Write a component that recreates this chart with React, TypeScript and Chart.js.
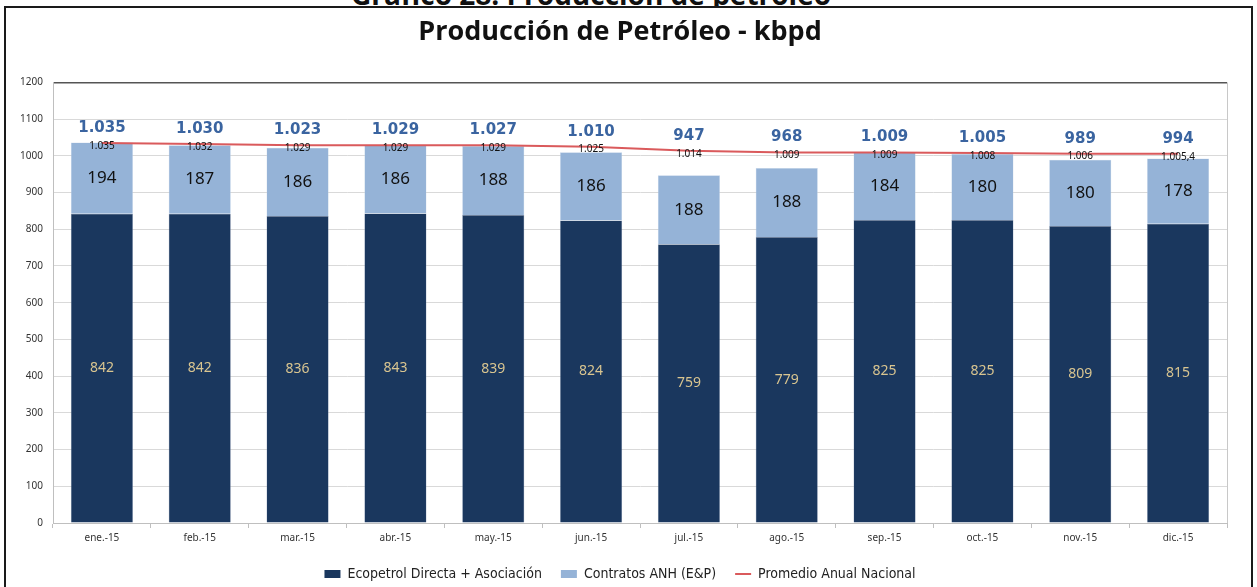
import React, { useEffect, useRef } from "react";
import { Chart, registerables } from "chart.js";

Chart.register(...registerables);

const categories = ["ene.-15", "feb.-15", "mar.-15", "abr.-15", "may.-15", "jun.-15", "jul.-15", "ago.-15", "sep.-15", "oct.-15", "nov.-15", "dic.-15"];
const ecopetrol = [842, 842, 836, 843, 839, 824, 759, 779, 825, 825, 809, 815];
const anh = [194, 187, 186, 186, 188, 186, 188, 188, 184, 180, 180, 178];
const totals = [1035, 1030, 1023, 1029, 1027, 1010, 947, 968, 1009, 1005, 989, 994];
const promedio = [1035, 1032, 1029, 1029, 1029, 1025, 1014, 1009, 1009, 1008, 1006, 1005.4];
const yTicks = [0, 100, 200, 300, 400, 500, 600, 700, 800, 900, 1000, 1100, 1200];

const fmt = (v: number) => {
  const isInt = Number.isInteger(v);
  const [ip, dp] = (isInt ? String(v) : v.toFixed(1)).split(".");
  const withThousands = ip.replace(/\B(?=(\d{3})+(?!\d))/g, ".");
  return dp ? withThousands + "," + dp : withThousands;
};

const NAVY = "#1A375E";
const LIGHT = "#95B3D7";
const RED = "#DA5A5C";

const labelsPlugin = {
  id: "customLabels",
  afterDatasetsDraw(chart: any) {
    const ctx = chart.ctx;
    const y = chart.scales.y;
    const area = chart.chartArea;
    ctx.save();
    ctx.strokeStyle = "#c8c8c8";
    ctx.lineWidth = 1;
    ctx.beginPath();
    ctx.moveTo(Math.round(area.right) + 0.5, area.top);
    ctx.lineTo(Math.round(area.right) + 0.5, area.bottom);
    ctx.stroke();

    const m0 = chart.getDatasetMeta(0);
    const m1 = chart.getDatasetMeta(1);
    const m2 = chart.getDatasetMeta(2);
    ctx.textAlign = "center";
    ctx.textBaseline = "middle";
    m0.data.forEach((bar: any, i: number) => {
      const c = bar.getCenterPoint();
      ctx.fillStyle = "#D9C590";
      ctx.font = "14px 'Noto Sans'";
      ctx.fillText(fmt(ecopetrol[i]), c.x, c.y);
    });
    m1.data.forEach((bar: any, i: number) => {
      const c = bar.getCenterPoint();
      ctx.fillStyle = "#111";
      ctx.font = "17px 'Noto Sans'";
      ctx.fillText(fmt(anh[i]), c.x, c.y);
    });
    m2.data.forEach((pt: any, i: number) => {
      ctx.fillStyle = "#111";
      ctx.font = "10px 'Noto Sans'";
      ctx.fillText(fmt(promedio[i]), pt.x, pt.y + 3);
    });
    m1.data.forEach((bar: any, i: number) => {
      const top = y.getPixelForValue(Math.max(totals[i], promedio[i]));
      ctx.fillStyle = "#3A64A0";
      ctx.font = "bold 15px 'DejaVu Sans'";
      ctx.fillText(fmt(totals[i]), bar.x, top - 15);
    });
    ctx.restore();
  },
};

export default function App() {
  const ref = useRef<HTMLCanvasElement | null>(null);
  useEffect(() => {
    if (!ref.current) return;
    const chart = new Chart(ref.current, {
      type: "bar",
      data: {
        labels: categories,
        datasets: [
          {
            type: "bar",
            label: "Ecopetrol Directa + Asociación",
            data: ecopetrol,
            backgroundColor: NAVY,
            borderColor: "#8a9ab5",
            borderWidth: 0.5,
            stack: "s",
            order: 2,
            barPercentage: 0.635,
            categoryPercentage: 1,
          },
          {
            type: "bar",
            label: "Contratos ANH (E&P)",
            data: anh,
            backgroundColor: LIGHT,
            borderColor: "#c9d8ea",
            borderWidth: 0.5,
            stack: "s",
            order: 2,
            barPercentage: 0.635,
            categoryPercentage: 1,
          },
          {
            type: "line",
            label: "Promedio Anual Nacional",
            data: promedio,
            borderColor: RED,
            backgroundColor: RED,
            borderWidth: 2,
            pointRadius: 0,
            tension: 0,
            stack: "avg",
            order: 1,
          } as any,
        ],
      },
      options: {
        animation: false,
        responsive: false,
        maintainAspectRatio: false,
        layout: { padding: { left: 7, right: 24, top: 0, bottom: -4 } },
        plugins: {
          title: {
            display: true,
            text: "Producción de Petróleo - kbpd",
            color: "#111",
            font: { family: "'Open Sans'", size: 27, weight: "bold" },
            padding: { top: 8, bottom: 34 },
          },
          legend: {
            position: "bottom",
            labels: {
              color: "#222",
              font: { family: "'Liberation Sans Narrow', 'DejaVu Sans Condensed', sans-serif", size: 14 },
              usePointStyle: true,
              pointStyleWidth: 16,
              boxHeight: 8,
              boxWidth: 16,
              padding: 19,
              sort: (a: any, b: any) => a.datasetIndex - b.datasetIndex,
              generateLabels: (ch: any) => {
                const base = Chart.defaults.plugins.legend.labels.generateLabels(ch);
                return base.map((it: any) => {
                  if (it.datasetIndex === 2) {
                    return { ...it, pointStyle: "line", strokeStyle: RED, lineWidth: 2 };
                  }
                  return { ...it, pointStyle: "rect", lineWidth: 0 };
                });
              },
            },
          },
          tooltip: { enabled: false },
        },
        scales: {
          x: {
            stacked: true,
            grid: { display: true, drawOnChartArea: false, drawTicks: true, tickLength: 5, color: "#bfbfbf", offset: true },
            border: { color: "#bfbfbf" },
            ticks: { color: "#333", font: { family: "'Noto Sans'", size: 10 }, padding: 4 },
          },
          y: {
            stacked: true,
            min: 0,
            max: 1200,
            afterBuildTicks: (s: any) => {
              s.ticks = yTicks.map((v) => ({ value: v }));
            },
            afterFit: (s: any) => {
              s.width = 40;
            },
            grid: {
              color: (c: any) => (c.tick && c.tick.value === 1200 ? "#555" : "#d9d9d9"),
              lineWidth: (c: any) => (c.tick && c.tick.value === 1200 ? 1.5 : 1),
              drawTicks: false,
            },
            border: { color: "#bfbfbf" },
            ticks: {
              color: "#333",
              font: { family: "'Noto Sans'", size: 10 },
              padding: 10,
              callback: (v: any) => String(v),
            },
          },
        },
      },
      plugins: [labelsPlugin],
    });
    return () => chart.destroy();
  }, []);

  return (
    <div style={{ position: "absolute", left: 0, top: 0, width: 1257, height: 587, overflow: "hidden", background: "#fff" }}>
      <div
        style={{
          position: "absolute",
          left: 0,
          width: 1182,
          top: -21,
          height: 30,
          lineHeight: "30px",
          textAlign: "center",
          fontFamily: "'Open Sans', sans-serif",
          fontWeight: "bold",
          fontSize: 28,
          color: "#111",
          whiteSpace: "nowrap",
        }}
      >
        Gráfico 28. Producción de petróleo
      </div>
      <div
        style={{
          position: "absolute",
          left: 4,
          top: 6,
          width: 1249,
          height: 581,
          borderLeft: "2px solid #1a1a1a",
          borderRight: "2px solid #1a1a1a",
          borderTop: "2px solid #1a1a1a",
          boxSizing: "border-box",
          background: "#fff",
        }}
      >
        <canvas ref={ref} width={1245} height={579} style={{ display: "block", width: 1245, height: 579 }} />
      </div>
    </div>
  );
}
